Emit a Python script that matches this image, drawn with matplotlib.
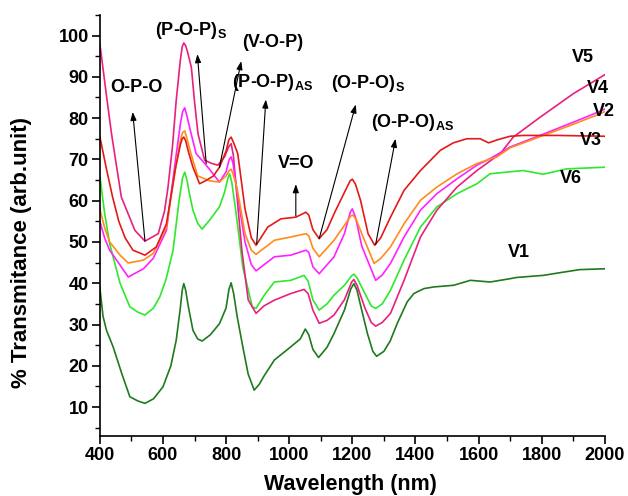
import matplotlib
matplotlib.use("Agg")
import matplotlib.pyplot as plt
from matplotlib.ticker import MultipleLocator

plt.rcParams["font.family"] = ["Liberation Sans", "DejaVu Sans"]
plt.rcParams["font.weight"] = "bold"
plt.rcParams["mathtext.fontset"] = "custom"
plt.rcParams["mathtext.rm"] = "Liberation Sans:bold"

# ---- data (wavelength nm, % transmittance) ----
wl_v1 = [400, 410, 421, 442, 470, 495, 520, 543, 570, 600, 625, 642, 655, 661, 666, 672, 680,
         695, 710, 724, 750, 779, 800, 809, 816, 824, 835, 853, 870, 889, 905, 920, 953, 1005,
         1035, 1051, 1062, 1075, 1093, 1120, 1142, 1175, 1195, 1205, 1215, 1225, 1248, 1265,
         1277, 1300, 1320, 1342, 1374, 1395, 1427, 1458, 1521, 1574, 1637, 1700, 1721, 1805,
         1870, 1921, 2000]
t_v1 = [39, 32, 28.6, 24.6, 18, 12.5, 11.5, 10.9, 12, 14.9, 20, 26.2, 34, 38.3, 39.9, 38.3,
        34.5, 28.6, 26.5, 26, 27.5, 30.2, 34, 38.5, 40.1, 37.5, 32, 24.6, 18, 14.1, 15.5,
        17.5, 21.4, 24.6, 26.5, 28.9, 27.5, 24, 22, 24.5, 27.8, 33.5, 38.6, 39.9, 38.3, 35,
        27.8, 23.5, 22.3, 23.5, 26, 30.2, 35.5, 37.5, 38.7, 39.1, 39.5, 40.7, 40.3, 41.1,
        41.4, 41.9, 42.7, 43.3, 43.5]

wl_v6 = [400, 415, 431, 464, 495, 520, 543, 570, 590, 610, 632, 651, 662, 669, 676, 683, 695,
         710, 724, 750, 779, 795, 806, 811, 818, 830, 853, 883, 895, 920, 953, 1005, 1047,
         1060, 1075, 1095, 1120, 1142, 1175, 1198, 1205, 1215, 1240, 1260, 1274, 1295, 1321,
         1364, 1416, 1468, 1532, 1595, 1636, 1700, 1742, 1805, 1879, 2000]
t_v6 = [66, 57, 49.6, 40, 34.3, 33, 32.3, 34, 36.7, 41, 48, 60, 65.5, 66.9, 65, 62, 57.7,
        54.5, 53.1, 55.5, 58.5, 62, 65.5, 66.5, 64.5, 58, 43.9, 34.3, 33.9, 37, 40.3, 40.7,
        41.9, 40.5, 36, 33.5, 35, 37.1, 39.5, 41.8, 42.2, 41.3, 37.5, 34.5, 33.9, 35, 38.3,
        45.6, 53.6, 58.5, 61.7, 64.1, 66.5, 67, 67.3, 66.4, 67.7, 68.1]

wl_v5 = [400, 420, 437, 468, 511, 543, 585, 605, 616, 630, 642, 655, 661, 666, 672, 678, 690,
         700, 711, 732, 755, 774, 795, 808, 816, 823, 830, 850, 870, 895, 920, 953, 1005, 1047,
         1060, 1075, 1095, 1120, 1142, 1175, 1198, 1205, 1215, 1240, 1260, 1274, 1295, 1321,
         1364, 1416, 1468, 1532, 1595, 1669, 1710, 1795, 1900, 2000]
t_v5 = [98, 86, 76.2, 60.9, 52.8, 50.2, 52, 57.5, 63.3, 73, 84.3, 94, 97.3, 98.2, 97.5, 96,
        92.3, 84, 76.2, 69.8, 69, 68.6, 70.6, 73, 73.8, 71, 65, 48, 36, 32.7, 34.5, 35.9,
        37.5, 38.5, 37.5, 33.5, 30.3, 31, 32.3, 36, 40.3, 40.9, 39.5, 34, 30.5, 29.6, 30.5,
        32.7, 40.7, 51.2, 57.7, 63.3, 67.3, 71.4, 75.4, 80.2, 85.9, 90.5]

wl_v3 = [400, 420, 440, 460, 480, 505, 543, 579, 611, 640, 655, 661, 666, 672, 680, 695, 716,
         737, 760, 779, 800, 809, 816, 824, 837, 860, 880, 895, 932, 974, 1021, 1053, 1062,
         1075, 1095, 1120, 1142, 1175, 1193, 1200, 1210, 1226, 1250, 1271, 1290, 1321, 1364,
         1416, 1479, 1520, 1563, 1605, 1632, 1658, 1700, 1742, 1850, 2000]
t_v3 = [75.5, 68, 61, 55, 51, 48, 46.8, 48.8, 54.4, 68, 73.5, 75, 75.4, 74.5, 72, 68.1, 64.1,
        64.9, 66, 68.1, 72, 74.8, 75.4, 74, 71.4, 58, 51, 49.2, 53.6, 55.6, 56, 57.2, 56.5,
        53, 50.8, 53, 56.8, 62, 64.8, 65.2, 64, 60.1, 52, 49.2, 51, 56, 62.5, 67.3, 72.2,
        74, 75, 75, 74, 74.7, 75.6, 75.8, 75.8, 75.6]

wl_v2 = [400, 415, 431, 464, 490, 538, 569, 611, 640, 655, 662, 669, 676, 690, 710, 748, 779,
         800, 810, 816, 822, 835, 860, 880, 895, 953, 1005, 1053, 1062, 1075, 1095, 1142, 1175,
         1195, 1202, 1212, 1230, 1269, 1290, 1321, 1364, 1416, 1468, 1532, 1595, 1658, 1700,
         1795, 1900, 1984, 2000]
t_v2 = [58, 53.5, 50, 46.8, 44.9, 45.6, 47.2, 53.6, 68, 74.5, 76.5, 76.9, 75, 71, 66, 64.8,
        64.5, 66, 67.3, 67.6, 66.5, 63, 52, 48, 47, 50.4, 51.2, 52, 51.5, 48.5, 46.4, 50.4,
        54, 56.3, 56.5, 55.5, 52, 44.8, 46, 48.8, 54.4, 60.1, 63.3, 66.5, 69, 70.6, 72.8,
        75.5, 78.5, 81, 81.6]

wl_v4 = [400, 415, 431, 464, 490, 538, 569, 611, 640, 655, 662, 669, 676, 690, 705, 737, 779,
         800, 810, 816, 822, 835, 860, 880, 895, 953, 1005, 1053, 1062, 1075, 1095, 1142, 1175,
         1194, 1200, 1210, 1230, 1274, 1295, 1321, 1364, 1416, 1468, 1532, 1595, 1637, 1700,
         1795, 1900, 1984, 2000]
t_v4 = [55, 51, 48, 44.4, 41.5, 43.5, 46, 52.8, 70, 78.5, 81.5, 82.5, 80.5, 76, 71.4, 68.6,
        64.5, 67, 70, 70.6, 69, 62, 50, 44.5, 43, 46.4, 46.8, 48, 47.5, 44, 42.3, 46.4, 52,
        57.3, 58, 56, 49, 40.7, 42, 44.8, 51.2, 57.7, 61.7, 65.3, 68.6, 70.2, 73, 75.8, 79,
        81.6, 82.2]

series = [
    ("V1", wl_v1, t_v1, "#1f7a1f"),
    ("V6", wl_v6, t_v6, "#2ee82e"),
    ("V5", wl_v5, t_v5, "#e8207e"),
    ("V4", wl_v4, t_v4, "#ff22ff"),
    ("V2", wl_v2, t_v2, "#ff8c1a"),
    ("V3", wl_v3, t_v3, "#e31a1a"),
]

# series labels at the right-hand side
tag_names = ["V5", "V4", "V2", "V3", "V6", "V1"]
tag_x = [1930, 1977, 1996, 1955, 1892, 1728]
tag_y = [94.7, 87.2, 81.6, 74.6, 65.4, 47.5]

# band assignments: label, label pos, arrow tail (on curve), arrow head
band_names = ["O-P-O", r"(P-O-P)$_\mathrm{S}$", "(V-O-P)", r"(P-O-P)$_\mathrm{AS}$",
               "V=O", r"(O-P-O)$_\mathrm{S}$", r"(O-P-O)$_\mathrm{AS}$"]
band_txt = [(517, 87.5), (690, 101.2), (948, 98.3), (948, 88.7), (1021, 69), (1250, 88.4),
            (1390, 79)]
band_tail = [(543, 50.2), (737, 69), (779, 68.1), (897, 49.5), (1021, 56.3), (1095, 50.8),
             (1274, 49.4)]
band_head = [(504, 81.5), (709, 95.5), (848, 93.8), (926, 84.5), (1021, 64), (1211, 83.3),
             (1337, 75)]


def main():
    fig = plt.figure(figsize=(6.28, 4.96), dpi=100)
    ax = fig.add_axes([0.159, 0.121, 0.804, 0.849])

    for name, wl, t, col in series:
        ax.plot(wl, t, color=col, linewidth=1.2)

    for txt, (tx, ty), tail, head in zip(band_names, band_txt, band_tail, band_head):
        ax.annotate("", xy=head, xytext=tail,
                    arrowprops=dict(arrowstyle="-|>,head_length=0.5,head_width=0.18",
                                    color="black", lw=0.8, shrinkA=0, shrinkB=0))
        ax.text(tx, ty, txt, fontsize=13, fontweight="bold", ha="center", va="center")

    for name, x, y in zip(tag_names, tag_x, tag_y):
        ax.text(x, y, name, fontsize=13, fontweight="bold", ha="center", va="center")

    ax.set_xlim(400, 2000)
    ax.set_ylim(3, 105)
    ax.xaxis.set_major_locator(MultipleLocator(200))
    ax.xaxis.set_minor_locator(MultipleLocator(100))
    ax.yaxis.set_minor_locator(MultipleLocator(5))
    ax.set_yticks(range(10, 101, 10))
    ax.tick_params(which="major", length=6, width=1.2, labelsize=13, pad=2)
    ax.tick_params(which="minor", length=3.5, width=1.0)
    for lab in ax.get_xticklabels() + ax.get_yticklabels():
        lab.set_fontweight("bold")

    for side in ("top", "right"):
        ax.spines[side].set_visible(False)
    for side in ("left", "bottom"):
        ax.spines[side].set_linewidth(1.2)

    ax.set_xlabel("Wavelength (nm)", fontsize=15.5, fontweight="bold")
    ax.set_ylabel("% Transmitance (arb.unit)", fontsize=16, fontweight="bold")
    ax.xaxis.set_label_coords(0.497, -0.09)
    ax.yaxis.set_label_coords(-0.135, 0.435)

    fig.savefig("out.png", dpi=100)
    plt.close(fig)


if __name__ == "__main__":
    main()
